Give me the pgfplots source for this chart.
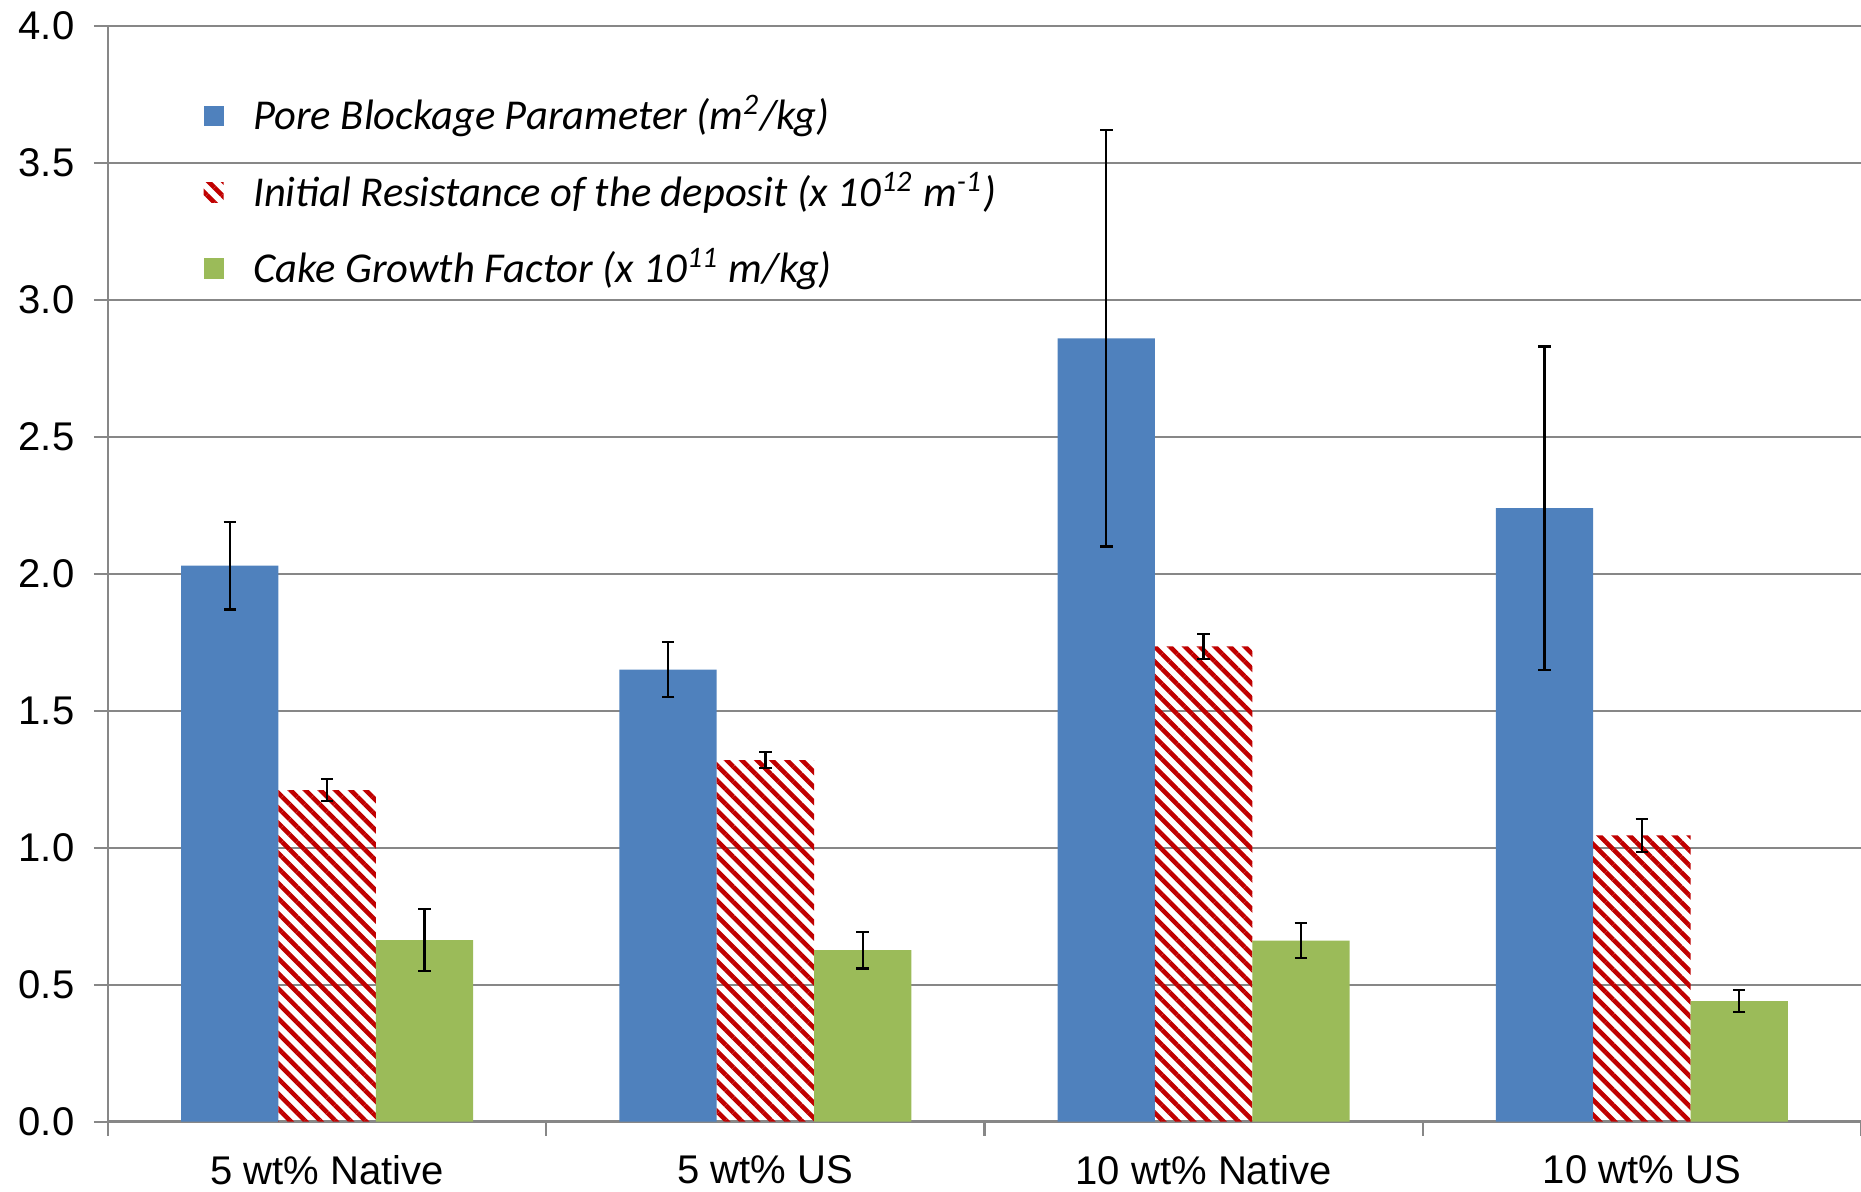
\documentclass[border=0pt]{standalone}
\usepackage{fontspec}
\setmainfont{Liberation Sans}
\newfontfamily\carlito{Carlito}
\usepackage{pgfplots}
\pgfplotsset{compat=1.18}
\usetikzlibrary{patterns.meta}
\definecolor{poreblue}{HTML}{4F81BD}
\definecolor{cakegreen}{HTML}{9BBB59}
\definecolor{resred}{HTML}{C00000}
\definecolor{gridgray}{HTML}{878787}

\pgfplotsset{
  sqlegend/.style={legend image code/.code={%
    \path[##1, draw=none] (0mm,-0.85mm) rectangle (1.7mm,0.85mm);}},
}

\begin{document}
\begin{tikzpicture}
\useasboundingbox (0,0) rectangle (156.8mm,100.4mm);
\begin{axis}[
  at={(9.1mm,5.9mm)}, anchor=south west,
  scale only axis, width=147.7mm, height=92.3mm,
  ybar=0pt, bar width=8.2mm,
  xmin=-0.5, xmax=3.5, ymin=0, ymax=4,
  xtick={-0.5,0.5,1.5,2.5,3.5},
  x tick label as interval,
  xticklabels={5 wt\% Native, 5 wt\% US, 10 wt\% Native, 10 wt\% US},
  ytick={0,0.5,...,4},
  ymajorgrids, grid style={gridgray, line width=0.5pt},
  axis lines*=left, axis line style={gridgray, line width=0.7pt, -},
  tick align=outside, major tick length=1.2mm,
  tick style={gridgray, line width=0.5pt},
  tick label style={font=\fontsize{9.6}{11}\selectfont},
  xticklabel style={yshift=-0.4mm},
  yticklabel style={xshift=-0.4mm},
  /pgf/number format/.cd, fixed, fixed zerofill, precision=1, assume math mode=true,
  /pgfplots/.cd,
  legend style={draw=none, fill=none, at={(0.054,0.945)}, anchor=north west,
    font=\carlito\itshape\fontsize{10.2}{12}\selectfont,
    row sep=1.6mm, inner sep=0pt, cells={anchor=west},
    /tikz/every odd column/.append style={column sep=1.8mm}},
  error bars/y dir=both, error bars/y explicit,
  error bars/error bar style={black, line width=0.55pt},
  error bars/error mark options={black, rotate=90, mark size=1.5pt, line width=0.55pt},
]
% pore blockage parameter
\addplot[fill=poreblue, draw=none, sqlegend] coordinates {
  (0,2.03) +- (0,0.16)
  (1,1.65) +- (0,0.10)
  (2,2.86) +- (0,0.76)
  (3,2.24) +- (0,0.59)
};
% initial resistance of the deposit
\addplot[draw=none, pattern={Lines[angle=-45, distance=2.55pt, line width=1.1pt]},
  pattern color=resred, sqlegend] coordinates {
  (0,1.21) +- (0,0.04)
  (1,1.32) +- (0,0.03)
  (2,1.735) +- (0,0.045)
  (3,1.045) +- (0,0.06)
};
% cake growth factor
\addplot[fill=cakegreen, draw=none, sqlegend] coordinates {
  (0,0.663) +- (0,0.113)
  (1,0.626) +- (0,0.067)
  (2,0.661) +- (0,0.063)
  (3,0.44) +- (0,0.041)
};
\legend{Pore Blockage Parameter (m\textsuperscript{2}/kg),
  Initial Resistance of the deposit (x 10\textsuperscript{12} m\textsuperscript{-1}),
  Cake Growth Factor (x 10\textsuperscript{11} m/kg)}
\end{axis}
\end{tikzpicture}
\end{document}
